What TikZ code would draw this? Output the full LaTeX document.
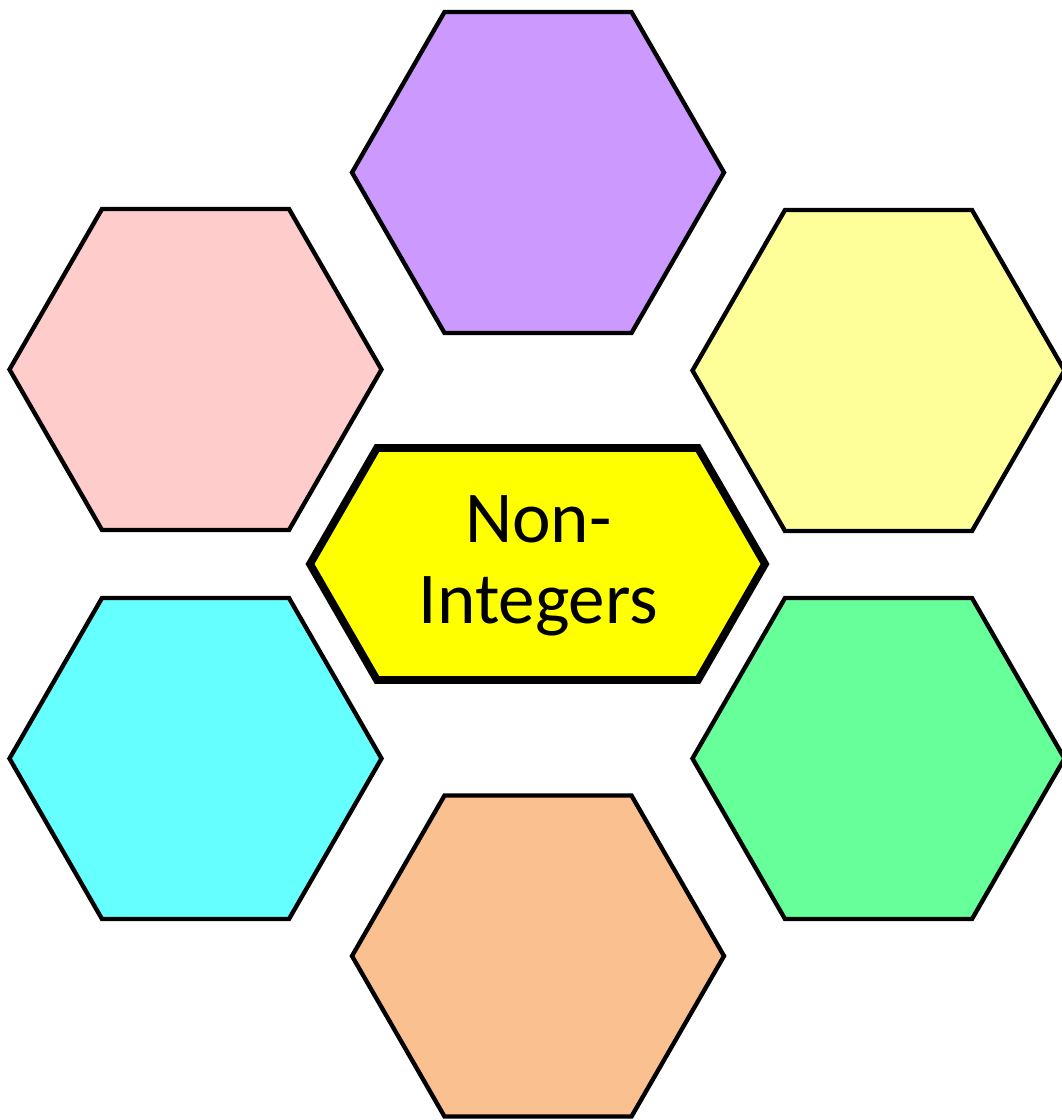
\documentclass[tikz,border=0pt]{standalone}
\usepackage{fontspec}
\setmainfont{Carlito}
\definecolor{cpurple}{HTML}{CC99FF}
\definecolor{cpink}{HTML}{FFCCCC}
\definecolor{clyellow}{HTML}{FFFF99}
\definecolor{ccyan}{HTML}{66FFFF}
\definecolor{cgreen}{HTML}{66FF99}
\definecolor{corange}{HTML}{FAC090}
\definecolor{cyellow}{HTML}{FFFF00}
\newcommand\myhex[6]{\filldraw[#1] ({#2-#4},#3) -- ({#2-#5},{#3-#6}) -- ({#2+#5},{#3-#6}) -- ({#2+#4},#3) -- ({#2+#5},{#3+#6}) -- ({#2-#5},{#3+#6}) -- cycle;}
\tikzset{
  hexa/.style={draw=black, line width=6.2pt},
  centerhex/.style={draw=black, line width=11pt, fill=cyellow},
  centerlabel/.style={align=center, font=\fontsize{104}{115}\selectfont, text=black, inner sep=0pt}
}
\begin{document}
\begin{tikzpicture}[x=0.05cm, y=-0.05cm]
\useasboundingbox (0,0) rectangle (1062,1120);
\clip (0,0) rectangle (1062,1120);
\myhex{hexa, fill=cpurple}{538}{172.5}{186}{93.5}{160.5}
\myhex{hexa, fill=cpink}{195.5}{369.5}{186}{93.5}{160.5}
\myhex{hexa, fill=clyellow}{878.5}{370.5}{186}{93.5}{160.5}
\myhex{hexa, fill=ccyan}{195.5}{758.5}{186}{93.5}{160.5}
\myhex{hexa, fill=cgreen}{878.5}{758.5}{186}{93.5}{160.5}
\myhex{hexa, fill=corange}{538}{956}{186}{93.5}{160.5}
\myhex{centerhex}{537.5}{564}{227.5}{160.5}{116}
\node[centerlabel] (label) at (538.5,566) {Non-\\Integers};
\end{tikzpicture}
\end{document}
